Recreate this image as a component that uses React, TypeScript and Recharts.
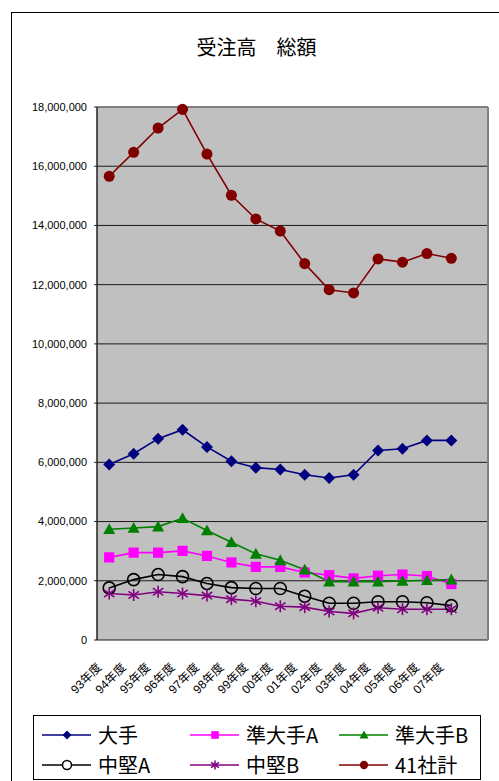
import {
  LineChart, Line, XAxis, YAxis, CartesianGrid, ReferenceLine,
} from 'recharts'

// 受注高 総額 (yen), fiscal 93–07
const years = ['93年度', '94年度', '95年度', '96年度', '97年度', '98年度', '99年度', '00年度', '01年度', '02年度', '03年度', '04年度', '05年度', '06年度', '07年度']

const oote   = [5930000, 6290000, 6800000, 7100000, 6520000, 6040000, 5820000, 5760000, 5580000, 5470000, 5580000, 6400000, 6460000, 6740000, 6740000]
const junA   = [2790000, 2950000, 2950000, 3010000, 2840000, 2620000, 2470000, 2470000, 2280000, 2190000, 2080000, 2170000, 2210000, 2160000, 1890000]
const junB   = [3740000, 3780000, 3830000, 4110000, 3700000, 3300000, 2910000, 2690000, 2370000, 1970000, 1970000, 1970000, 1990000, 2020000, 2040000]
const chuA   = [1760000, 2040000, 2210000, 2140000, 1910000, 1770000, 1740000, 1740000, 1480000, 1240000, 1240000, 1290000, 1290000, 1260000, 1160000]
const chuB   = [1570000, 1520000, 1630000, 1570000, 1500000, 1380000, 1310000, 1140000, 1110000, 960000, 900000, 1090000, 1040000, 1040000, 1040000]
const total  = [15660000, 16470000, 17290000, 17920000, 16410000, 15020000, 14220000, 13810000, 12710000, 11830000, 11720000, 12870000, 12760000, 13050000, 12890000]

const yTicks = [0, 2000000, 4000000, 6000000, 8000000, 10000000, 12000000, 14000000, 16000000, 18000000]

// one slot per year plus an empty slot at the right end
const SLOTS = years.length + 1
const slotEdges = Array.from({ length: SLOTS + 1 }, (_, i) => i)
const slotCenters = years.map((_, i) => i + 0.5)

const data = years.map((y, i) => ({
  x: i + 0.5,
  year: y,
  oote: oote[i],
  junA: junA[i],
  junB: junB[i],
  chuA: chuA[i],
  chuB: chuB[i],
  total: total[i],
}))

type Shape = 'diamond' | 'square' | 'triangle' | 'ring' | 'star' | 'disc'

interface SeriesDef {
  key: string
  name: string
  color: string
  shape: Shape
}

const series: SeriesDef[] = [
  { key: 'oote',  name: '大手',     color: '#000080', shape: 'diamond' },
  { key: 'junA',  name: '準大手A',  color: '#ff00ff', shape: 'square' },
  { key: 'junB',  name: '準大手B',  color: '#008000', shape: 'triangle' },
  { key: 'chuA',  name: '中堅A',    color: '#000000', shape: 'ring' },
  { key: 'chuB',  name: '中堅B',    color: '#800080', shape: 'star' },
  { key: 'total', name: '41社計',   color: '#800000', shape: 'disc' },
]

const JP = '"Noto Sans CJK JP", "Noto Sans", sans-serif'
const LATIN = '"Liberation Sans", Arial, "Noto Sans CJK JP", sans-serif'

function marker(shape: Shape, color: string, cx: number, cy: number, s: number) {
  switch (shape) {
    case 'diamond':
      return <polygon points={`${cx},${cy - s} ${cx + s},${cy} ${cx},${cy + s} ${cx - s},${cy}`} fill={color} />
    case 'square':
      return <rect x={cx - s * 0.85} y={cy - s * 0.85} width={s * 1.7} height={s * 1.7} fill={color} />
    case 'triangle':
      return <polygon points={`${cx},${cy - s} ${cx + s},${cy + s * 0.8} ${cx - s},${cy + s * 0.8}`} fill={color} />
    case 'ring':
      return <circle cx={cx} cy={cy} r={s} fill="none" stroke={color} strokeWidth={1.6} />
    case 'star':
      return (
        <g stroke={color} strokeWidth={1.6}>
          <line x1={cx} y1={cy - s} x2={cx} y2={cy + s} />
          <line x1={cx - s * 0.87} y1={cy - s * 0.6} x2={cx + s * 0.87} y2={cy + s * 0.6} />
          <line x1={cx - s * 0.87} y1={cy + s * 0.6} x2={cx + s * 0.87} y2={cy - s * 0.6} />
        </g>
      )
    default:
      return <circle cx={cx} cy={cy} r={s * 0.92} fill={color} />
  }
}

const makeDot = (def: SeriesDef) => (p: any) => {
  if (p.cx == null || p.cy == null) return <g key={`${def.key}-${p.index}`} />
  return <g key={`${def.key}-${p.index}`}>{marker(def.shape, def.color, p.cx, p.cy, 6)}</g>
}

function YearTick({ x, y, payload }: any) {
  const label = years[Math.floor(payload.value)]
  return (
    <text
      transform={`translate(${x - 7},${y + 26}) rotate(-45)`}
      textAnchor="end"
      fontSize={12}
      fontFamily={LATIN}
      fill="#000"
    >
      {label}
    </text>
  )
}

function LegendBox() {
  const cols = [41, 189, 338]
  const rows = [735, 765]
  return (
    <div style={{
      position: 'absolute', left: 33, top: 715, width: 446, height: 63,
      border: '1px solid #000', background: '#fff',
    }}>
      {series.map((s, i) => {
        const left = cols[i % 3] - 33
        const top = rows[Math.floor(i / 3)] - 715 - 16
        return (
          <div key={s.key} style={{ position: 'absolute', left, top, height: 30, display: 'flex', alignItems: 'center' }}>
            <svg width={50} height={30}>
              <line x1={0} y1={15} x2={49} y2={15} stroke={s.color} strokeWidth={1.5} />
              {s.shape === 'ring'
                ? <circle cx={25} cy={15} r={4.5} fill="#fff" stroke={s.color} strokeWidth={1.5} />
                : marker(s.shape, s.color, 25, 15, 4.5)}
            </svg>
            <span style={{ marginLeft: 6, fontSize: 20, fontFamily: JP, color: '#000', lineHeight: '30px' }}>
              {s.name}
            </span>
          </div>
        )
      })}
    </div>
  )
}

export default function App() {
  return (
    <div style={{ position: 'absolute', left: 0, top: 0, width: 499, height: 781, overflow: 'hidden', background: '#fff' }}>
      <div style={{
        position: 'absolute', left: 11, top: 12, width: 600, height: 900,
        border: '1.5px solid #000',
      }} />
      <div style={{
        position: 'absolute', left: 0, top: 35, width: 513, textAlign: 'center',
        fontSize: 20, lineHeight: '24px', fontFamily: JP, color: '#000',
      }}>
        受注高　総額
      </div>

      <div style={{ position: 'absolute', left: 0, top: 0 }}>
        <LineChart width={499} height={700} data={data} margin={{ top: 107, right: 11, left: 0, bottom: 0 }}>
          <CartesianGrid vertical={false} fill="#c0c0c0" stroke="#1a1a1a" strokeWidth={1} />
          <XAxis
            xAxisId="edge"
            type="number"
            domain={[0, SLOTS]}
            ticks={slotEdges}
            allowDataOverflow
            tick={false}
            tickSize={4}
            mirror
            height={0}
            axisLine={{ stroke: '#000', strokeWidth: 2 }}
            tickLine={{ stroke: '#000', strokeWidth: 1 }}
          />
          <XAxis
            xAxisId="yr"
            type="number"
            dataKey="x"
            domain={[0, SLOTS]}
            ticks={slotCenters}
            interval={0}
            allowDataOverflow
            axisLine={false}
            tickLine={false}
            tickSize={0}
            height={60}
            tick={<YearTick />}
          />
          <YAxis
            domain={[0, 18000000]}
            ticks={yTicks}
            interval={0}
            width={97}
            tickSize={3}
            tickMargin={7}
            axisLine={{ stroke: '#222', strokeWidth: 1.5 }}
            tickLine={{ stroke: '#222' }}
            tick={{ fontSize: 11, fontFamily: LATIN, fill: '#000' }}
            tickFormatter={(v: number) => v.toLocaleString('en-US')}
          />
          <ReferenceLine xAxisId="yr" y={18000000} stroke="#808080" strokeWidth={1.5} />
          <ReferenceLine xAxisId="yr" x={SLOTS} stroke="#808080" strokeWidth={2} />
          {series.map(s => (
            <Line
              key={s.key}
              xAxisId="yr"
              dataKey={s.key}
              name={s.name}
              stroke={s.color}
              strokeWidth={1.6}
              dot={makeDot(s)}
              activeDot={false}
              isAnimationActive={false}
            />
          ))}
        </LineChart>
      </div>

      <LegendBox />
    </div>
  )
}
